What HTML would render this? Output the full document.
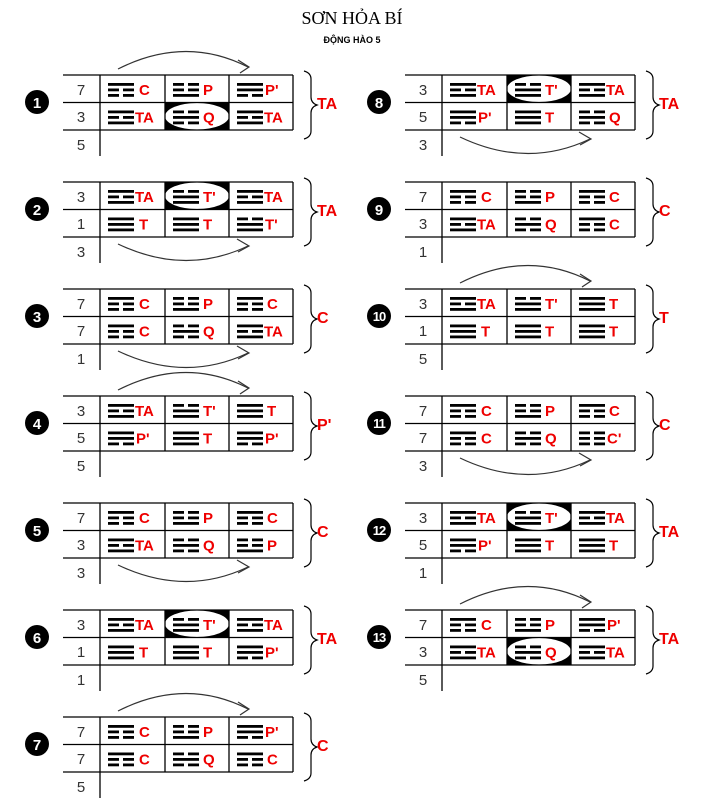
<!DOCTYPE html>
<html><head><meta charset="utf-8"><style>body{margin:0;background:#fff}svg{display:block}</style></head><body>
<svg width="703" height="800" viewBox="0 0 703 800" xmlns="http://www.w3.org/2000/svg" font-family="Liberation Sans, Arial, sans-serif">
<defs>
<g id="S"><rect width="26" height="2.8"/></g>
<g id="B"><rect width="11" height="2.8"/><rect x="15" width="11" height="2.8"/></g>
<g id="tT"><use href="#S"/><use href="#S" y="5.5"/><use href="#S" y="11"/></g>
<g id="tT2"><use href="#B"/><use href="#S" y="5.5"/><use href="#S" y="11"/></g>
<g id="tTA"><use href="#S"/><use href="#B" y="5.5"/><use href="#S" y="11"/></g>
<g id="tP"><use href="#B"/><use href="#B" y="5.5"/><use href="#S" y="11"/></g>
<g id="tP2"><use href="#S"/><use href="#S" y="5.5"/><use href="#B" y="11"/></g>
<g id="tQ"><use href="#B"/><use href="#S" y="5.5"/><use href="#B" y="11"/></g>
<g id="tC"><use href="#S"/><use href="#B" y="5.5"/><use href="#B" y="11"/></g>
<g id="tC2"><use href="#B"/><use href="#B" y="5.5"/><use href="#B" y="11"/></g>
<g id="frame" stroke="#000" stroke-width="1.3" fill="none">
<line x1="0" y1="0" x2="230" y2="0"/><line x1="0" y1="27.5" x2="230" y2="27.5"/><line x1="0" y1="55" x2="230" y2="55"/>
<line x1="37" y1="0" x2="37" y2="81"/><line x1="102" y1="0" x2="102" y2="55"/><line x1="166" y1="0" x2="166" y2="55"/><line x1="230" y1="0" x2="230" y2="55"/>
<path d="M241,-4 q7,2 7,8 v18 q0,6 6,8 q-6,2 -6,8 v18 q0,6 -7,8" stroke-width="1.2"/>
</g>
<g id="up" stroke="#333" stroke-width="1.2" fill="none"><path d="M55,-6 Q122,-40 185,-8"/><path d="M175,-15 L186,-8 L177,-2"/></g>
<g id="dn" stroke="#333" stroke-width="1.2" fill="none"><path d="M55,62 Q122,94 185,64"/><path d="M174,57 L186,64 L175,70"/></g>
<g id="ov1"><rect x="102" y="0" width="64" height="27.5" fill="#000"/><ellipse cx="134" cy="13.75" rx="32" ry="13.2" fill="#fff"/></g>
<g id="ov2"><rect x="102" y="27.5" width="64" height="27.5" fill="#000"/><ellipse cx="134" cy="41.25" rx="32" ry="13.2" fill="#fff"/></g>
</defs>

<text x="352" y="24" text-anchor="middle" font-family="Liberation Serif, serif" font-size="18">SƠN HỎA BÍ</text>
<text x="352" y="43" text-anchor="middle" font-size="9" font-weight="bold">ĐỘNG HÀO 5</text>

<!-- Block 1 -->
<g transform="translate(63,75)">
<use href="#ov2"/><use href="#frame"/><use href="#up"/>
<g font-size="15" fill="#333" text-anchor="middle"><text x="18" y="20">7</text><text x="18" y="47">3</text><text x="18" y="75">5</text></g>
<circle cx="-26" cy="27" r="12"/><text x="-26" y="33" fill="#fff" font-size="15" font-weight="bold" text-anchor="middle">1</text>
<text x="254" y="34" fill="#e00" font-size="16" font-weight="bold">TA</text>
<use href="#tC" x="45" y="8"/><use href="#tP" x="110" y="8"/><use href="#tP2" x="174" y="8"/>
<use href="#tTA" x="45" y="35.5"/><use href="#tQ" x="110" y="35.5"/><use href="#tTA" x="174" y="35.5"/>
<g fill="#e00" font-size="15" font-weight="bold"><text x="76" y="20">C</text><text x="140" y="20">P</text><text x="202" y="20">P'</text><text x="72" y="47.5">TA</text><text x="140" y="47.5">Q</text><text x="201" y="47.5">TA</text></g>
</g>

<!-- Block 2 -->
<g transform="translate(63,182)">
<use href="#ov1"/><use href="#frame"/><use href="#dn"/>
<g font-size="15" fill="#333" text-anchor="middle"><text x="18" y="20">3</text><text x="18" y="47">1</text><text x="18" y="75">3</text></g>
<circle cx="-26" cy="27" r="12"/><text x="-26" y="33" fill="#fff" font-size="15" font-weight="bold" text-anchor="middle">2</text>
<text x="254" y="34" fill="#e00" font-size="16" font-weight="bold">TA</text>
<use href="#tTA" x="45" y="8"/><use href="#tT2" x="110" y="8"/><use href="#tTA" x="174" y="8"/>
<use href="#tT" x="45" y="35.5"/><use href="#tT" x="110" y="35.5"/><use href="#tT2" x="174" y="35.5"/>
<g fill="#e00" font-size="15" font-weight="bold"><text x="72" y="20">TA</text><text x="140" y="20">T'</text><text x="201" y="20">TA</text><text x="76" y="47.5">T</text><text x="140" y="47.5">T</text><text x="202" y="47.5">T'</text></g>
</g>

<!-- Block 3 -->
<g transform="translate(63,289)">
<use href="#frame"/><use href="#dn"/>
<g font-size="15" fill="#333" text-anchor="middle"><text x="18" y="20">7</text><text x="18" y="47">7</text><text x="18" y="75">1</text></g>
<circle cx="-26" cy="27" r="12"/><text x="-26" y="33" fill="#fff" font-size="15" font-weight="bold" text-anchor="middle">3</text>
<text x="254" y="34" fill="#e00" font-size="16" font-weight="bold">C</text>
<use href="#tC" x="45" y="8"/><use href="#tP" x="110" y="8"/><use href="#tC" x="174" y="8"/>
<use href="#tC" x="45" y="35.5"/><use href="#tQ" x="110" y="35.5"/><use href="#tTA" x="174" y="35.5"/>
<g fill="#e00" font-size="15" font-weight="bold"><text x="76" y="20">C</text><text x="140" y="20">P</text><text x="204" y="20">C</text><text x="76" y="47.5">C</text><text x="140" y="47.5">Q</text><text x="201" y="47.5">TA</text></g>
</g>

<!-- Block 4 -->
<g transform="translate(63,396)">
<use href="#frame"/><use href="#up"/>
<g font-size="15" fill="#333" text-anchor="middle"><text x="18" y="20">3</text><text x="18" y="47">5</text><text x="18" y="75">5</text></g>
<circle cx="-26" cy="27" r="12"/><text x="-26" y="33" fill="#fff" font-size="15" font-weight="bold" text-anchor="middle">4</text>
<text x="254" y="34" fill="#e00" font-size="16" font-weight="bold">P'</text>
<use href="#tTA" x="45" y="8"/><use href="#tT2" x="110" y="8"/><use href="#tT" x="174" y="8"/>
<use href="#tP2" x="45" y="35.5"/><use href="#tT" x="110" y="35.5"/><use href="#tP2" x="174" y="35.5"/>
<g fill="#e00" font-size="15" font-weight="bold"><text x="72" y="20">TA</text><text x="140" y="20">T'</text><text x="204" y="20">T</text><text x="73" y="47.5">P'</text><text x="140" y="47.5">T</text><text x="202" y="47.5">P'</text></g>
</g>

<!-- Block 5 -->
<g transform="translate(63,503)">
<use href="#frame"/><use href="#dn"/>
<g font-size="15" fill="#333" text-anchor="middle"><text x="18" y="20">7</text><text x="18" y="47">3</text><text x="18" y="75">3</text></g>
<circle cx="-26" cy="27" r="12"/><text x="-26" y="33" fill="#fff" font-size="15" font-weight="bold" text-anchor="middle">5</text>
<text x="254" y="34" fill="#e00" font-size="16" font-weight="bold">C</text>
<use href="#tC" x="45" y="8"/><use href="#tP" x="110" y="8"/><use href="#tC" x="174" y="8"/>
<use href="#tTA" x="45" y="35.5"/><use href="#tQ" x="110" y="35.5"/><use href="#tP" x="174" y="35.5"/>
<g fill="#e00" font-size="15" font-weight="bold"><text x="76" y="20">C</text><text x="140" y="20">P</text><text x="204" y="20">C</text><text x="72" y="47.5">TA</text><text x="140" y="47.5">Q</text><text x="204" y="47.5">P</text></g>
</g>

<!-- Block 6 -->
<g transform="translate(63,610)">
<use href="#ov1"/><use href="#frame"/>
<g font-size="15" fill="#333" text-anchor="middle"><text x="18" y="20">3</text><text x="18" y="47">1</text><text x="18" y="75">1</text></g>
<circle cx="-26" cy="27" r="12"/><text x="-26" y="33" fill="#fff" font-size="15" font-weight="bold" text-anchor="middle">6</text>
<text x="254" y="34" fill="#e00" font-size="16" font-weight="bold">TA</text>
<use href="#tTA" x="45" y="8"/><use href="#tT2" x="110" y="8"/><use href="#tTA" x="174" y="8"/>
<use href="#tT" x="45" y="35.5"/><use href="#tT" x="110" y="35.5"/><use href="#tP2" x="174" y="35.5"/>
<g fill="#e00" font-size="15" font-weight="bold"><text x="72" y="20">TA</text><text x="140" y="20">T'</text><text x="201" y="20">TA</text><text x="76" y="47.5">T</text><text x="140" y="47.5">T</text><text x="202" y="47.5">P'</text></g>
</g>

<!-- Block 7 -->
<g transform="translate(63,717)">
<use href="#frame"/><use href="#up"/>
<g font-size="15" fill="#333" text-anchor="middle"><text x="18" y="20">7</text><text x="18" y="47">7</text><text x="18" y="75">5</text></g>
<circle cx="-26" cy="27" r="12"/><text x="-26" y="33" fill="#fff" font-size="15" font-weight="bold" text-anchor="middle">7</text>
<text x="254" y="34" fill="#e00" font-size="16" font-weight="bold">C</text>
<use href="#tC" x="45" y="8"/><use href="#tP" x="110" y="8"/><use href="#tP2" x="174" y="8"/>
<use href="#tC" x="45" y="35.5"/><use href="#tQ" x="110" y="35.5"/><use href="#tC" x="174" y="35.5"/>
<g fill="#e00" font-size="15" font-weight="bold"><text x="76" y="20">C</text><text x="140" y="20">P</text><text x="202" y="20">P'</text><text x="76" y="47.5">C</text><text x="140" y="47.5">Q</text><text x="204" y="47.5">C</text></g>
</g>

<!-- Block 8 -->
<g transform="translate(405,75)">
<use href="#ov1"/><use href="#frame"/><use href="#dn"/>
<g font-size="15" fill="#333" text-anchor="middle"><text x="18" y="20">3</text><text x="18" y="47">5</text><text x="18" y="75">3</text></g>
<circle cx="-26" cy="27" r="12"/><text x="-26" y="33" fill="#fff" font-size="15" font-weight="bold" text-anchor="middle">8</text>
<text x="254" y="34" fill="#e00" font-size="16" font-weight="bold">TA</text>
<use href="#tTA" x="45" y="8"/><use href="#tT2" x="110" y="8"/><use href="#tTA" x="174" y="8"/>
<use href="#tP2" x="45" y="35.5"/><use href="#tT" x="110" y="35.5"/><use href="#tQ" x="174" y="35.5"/>
<g fill="#e00" font-size="15" font-weight="bold"><text x="72" y="20">TA</text><text x="140" y="20">T'</text><text x="201" y="20">TA</text><text x="73" y="47.5">P'</text><text x="140" y="47.5">T</text><text x="204" y="47.5">Q</text></g>
</g>

<!-- Block 9 -->
<g transform="translate(405,182)">
<use href="#frame"/>
<g font-size="15" fill="#333" text-anchor="middle"><text x="18" y="20">7</text><text x="18" y="47">3</text><text x="18" y="75">1</text></g>
<circle cx="-26" cy="27" r="12"/><text x="-26" y="33" fill="#fff" font-size="15" font-weight="bold" text-anchor="middle">9</text>
<text x="254" y="34" fill="#e00" font-size="16" font-weight="bold">C</text>
<use href="#tC" x="45" y="8"/><use href="#tP" x="110" y="8"/><use href="#tC" x="174" y="8"/>
<use href="#tTA" x="45" y="35.5"/><use href="#tQ" x="110" y="35.5"/><use href="#tC" x="174" y="35.5"/>
<g fill="#e00" font-size="15" font-weight="bold"><text x="76" y="20">C</text><text x="140" y="20">P</text><text x="204" y="20">C</text><text x="72" y="47.5">TA</text><text x="140" y="47.5">Q</text><text x="204" y="47.5">C</text></g>
</g>

<!-- Block 10 -->
<g transform="translate(405,289)">
<use href="#frame"/><use href="#up"/>
<g font-size="15" fill="#333" text-anchor="middle"><text x="18" y="20">3</text><text x="18" y="47">1</text><text x="18" y="75">5</text></g>
<circle cx="-26" cy="27" r="12"/><text x="-26" y="32" fill="#fff" font-size="13" font-weight="bold" text-anchor="middle" letter-spacing="-1">10</text>
<text x="254" y="34" fill="#e00" font-size="16" font-weight="bold">T</text>
<use href="#tTA" x="45" y="8"/><use href="#tT2" x="110" y="8"/><use href="#tT" x="174" y="8"/>
<use href="#tT" x="45" y="35.5"/><use href="#tT" x="110" y="35.5"/><use href="#tT" x="174" y="35.5"/>
<g fill="#e00" font-size="15" font-weight="bold"><text x="72" y="20">TA</text><text x="140" y="20">T'</text><text x="204" y="20">T</text><text x="76" y="47.5">T</text><text x="140" y="47.5">T</text><text x="204" y="47.5">T</text></g>
</g>

<!-- Block 11 -->
<g transform="translate(405,396)">
<use href="#frame"/><use href="#dn"/>
<g font-size="15" fill="#333" text-anchor="middle"><text x="18" y="20">7</text><text x="18" y="47">7</text><text x="18" y="75">3</text></g>
<circle cx="-26" cy="27" r="12"/><text x="-26" y="32" fill="#fff" font-size="13" font-weight="bold" text-anchor="middle" letter-spacing="-1">11</text>
<text x="254" y="34" fill="#e00" font-size="16" font-weight="bold">C</text>
<use href="#tC" x="45" y="8"/><use href="#tP" x="110" y="8"/><use href="#tC" x="174" y="8"/>
<use href="#tC" x="45" y="35.5"/><use href="#tQ" x="110" y="35.5"/><use href="#tC2" x="174" y="35.5"/>
<g fill="#e00" font-size="15" font-weight="bold"><text x="76" y="20">C</text><text x="140" y="20">P</text><text x="204" y="20">C</text><text x="76" y="47.5">C</text><text x="140" y="47.5">Q</text><text x="202" y="47.5">C'</text></g>
</g>

<!-- Block 12 -->
<g transform="translate(405,503)">
<use href="#ov1"/><use href="#frame"/>
<g font-size="15" fill="#333" text-anchor="middle"><text x="18" y="20">3</text><text x="18" y="47">5</text><text x="18" y="75">1</text></g>
<circle cx="-26" cy="27" r="12"/><text x="-26" y="32" fill="#fff" font-size="13" font-weight="bold" text-anchor="middle" letter-spacing="-1">12</text>
<text x="254" y="34" fill="#e00" font-size="16" font-weight="bold">TA</text>
<use href="#tTA" x="45" y="8"/><use href="#tT2" x="110" y="8"/><use href="#tTA" x="174" y="8"/>
<use href="#tP2" x="45" y="35.5"/><use href="#tT" x="110" y="35.5"/><use href="#tT" x="174" y="35.5"/>
<g fill="#e00" font-size="15" font-weight="bold"><text x="72" y="20">TA</text><text x="140" y="20">T'</text><text x="201" y="20">TA</text><text x="73" y="47.5">P'</text><text x="140" y="47.5">T</text><text x="204" y="47.5">T</text></g>
</g>

<!-- Block 13 -->
<g transform="translate(405,610)">
<use href="#ov2"/><use href="#frame"/><use href="#up"/>
<g font-size="15" fill="#333" text-anchor="middle"><text x="18" y="20">7</text><text x="18" y="47">3</text><text x="18" y="75">5</text></g>
<circle cx="-26" cy="27" r="12"/><text x="-26" y="32" fill="#fff" font-size="13" font-weight="bold" text-anchor="middle" letter-spacing="-1">13</text>
<text x="254" y="34" fill="#e00" font-size="16" font-weight="bold">TA</text>
<use href="#tC" x="45" y="8"/><use href="#tP" x="110" y="8"/><use href="#tP2" x="174" y="8"/>
<use href="#tTA" x="45" y="35.5"/><use href="#tQ" x="110" y="35.5"/><use href="#tTA" x="174" y="35.5"/>
<g fill="#e00" font-size="15" font-weight="bold"><text x="76" y="20">C</text><text x="140" y="20">P</text><text x="202" y="20">P'</text><text x="72" y="47.5">TA</text><text x="140" y="47.5">Q</text><text x="201" y="47.5">TA</text></g>
</g>
</svg>
</body></html>
